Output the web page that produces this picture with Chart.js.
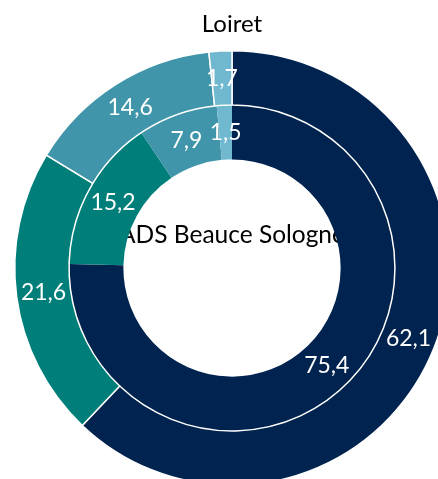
<!DOCTYPE html>
<html>
<head>
<meta charset="utf-8">
<script src="https://cdn.jsdelivr.net/npm/chart.js@4/dist/chart.umd.min.js"></script>
<style>
  html, body { margin: 0; padding: 0; background: #fff; overflow: hidden; }
  #wrap { width: 438px; height: 479px; overflow: hidden; position: relative; }
  #donut { position: absolute; left: 0; top: 0; }
</style>
</head>
<body>
<div id="wrap"><canvas id="donut" width="464" height="486"></canvas></div>
<script>
"use strict";

var categories = ['Part 1', 'Part 2', 'Part 3', 'Part 4'];
var loiretValues = [62.1, 21.6, 14.6, 1.7];
var adsValues = [75.4, 15.2, 7.9, 1.5];
var outerName = 'Loiret';
var innerName = 'ADS Beauce Sologne';
var sliceColors = ['#00234f', '#007f7a', '#4095aa', '#70b8cf'];

(function () {
  var fontFamily, format_value, center_label, value_labels;
  fontFamily = 'Lato, "Open Sans", sans-serif';

  format_value = function (v) {
    return v.toFixed(1).replace('.', ',');
  };

  // Series name of the inner ring, drawn under the arcs so the rings clip it.
  center_label = {
    id: 'center_label',
    beforeDatasetsDraw: function (chart) {
      var ctx, meta, x;
      ctx = chart.ctx;
      meta = chart.getDatasetMeta(1);
      x = meta.data[0].x;
      ctx.save();
      ctx.fillStyle = '#000';
      ctx.font = '24.5px ' + fontFamily;
      ctx.textAlign = 'center';
      ctx.textBaseline = 'alphabetic';
      ctx.fillText(innerName, x, meta.data[0].y - 25);
      ctx.restore();
    }
  };

  // White value labels in the middle of each slice.
  value_labels = {
    id: 'value_labels',
    afterDatasetsDraw: function (chart) {
      var ctx;
      ctx = chart.ctx;
      ctx.save();
      ctx.fillStyle = '#fff';
      ctx.font = '23px ' + fontFamily;
      ctx.textAlign = 'center';
      ctx.textBaseline = 'middle';
      chart.data.datasets.forEach(function (ds, i) {
        chart.getDatasetMeta(i).data.forEach(function (arc, j) {
          var p = arc.getCenterPoint();
          ctx.fillText(format_value(ds.data[j]), p.x, p.y);
        });
      });
      ctx.restore();
    }
  };

  new Chart(document.getElementById('donut').getContext('2d'), {
    type: 'doughnut',
    data: {
      labels: categories,
      datasets: [{
        label: outerName,
        data: loiretValues,
        backgroundColor: sliceColors,
        borderColor: '#fff',
        borderWidth: 1.5
      }, {
        label: innerName,
        data: adsValues,
        backgroundColor: sliceColors,
        borderWidth: 0
      }]
    },
    options: {
      responsive: false,
      animation: false,
      cutout: '50%',
      layout: {
        padding: { left: 14, right: 14, top: 0, bottom: 0 }
      },
      plugins: {
        legend: { display: false },
        tooltip: { enabled: false },
        title: {
          display: true,
          text: outerName,
          color: '#000',
          font: { family: fontFamily, size: 24, weight: 'normal', lineHeight: 1.2 },
          padding: { top: 10, bottom: 11.2 }
        }
      }
    },
    plugins: [center_label, value_labels]
  });
}).call(void 0);
</script>
</body>
</html>
